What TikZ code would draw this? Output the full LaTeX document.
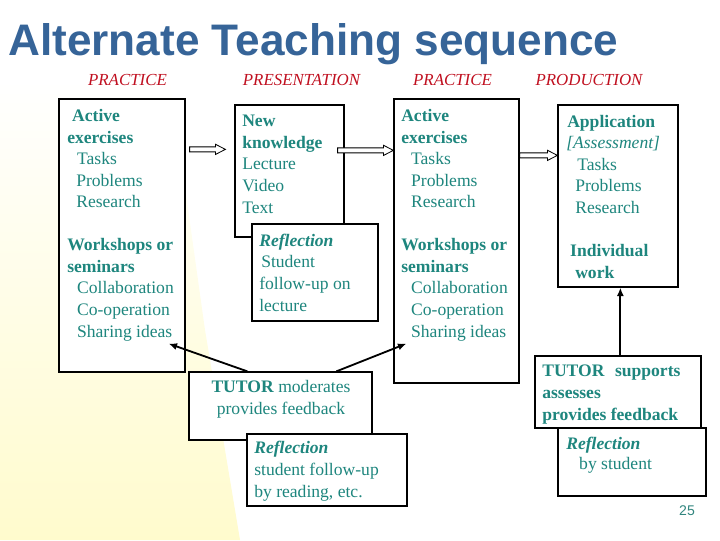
\documentclass[tikz,border=0pt]{standalone}
\usepackage{fontspec}
\setmainfont{Liberation Serif}
\newfontfamily\titlefont{Liberation Sans}
\usetikzlibrary{arrows.meta,positioning,calc,fit}

\definecolor{titleblue}{RGB}{54,100,152}
\definecolor{headred}{RGB}{192,16,32}
\definecolor{bodyteal}{RGB}{30,134,126}
\definecolor{bgyellow}{RGB}{255,251,205}

\tikzset{
  box/.style={draw,line width=0.9pt,fill=white,inner sep=0pt},
  txt/.style={anchor=base west,align=left,inner sep=0pt,text=bodyteal,
    font=\fontsize{12.5}{15.3}\selectfont},
  head/.style={anchor=base,inner sep=0pt,text=headred,
    font=\fontsize{12}{14}\selectfont\itshape},
  hollow/.style={draw,line width=0.6pt,fill=white},
  link/.style={line width=1.3pt,-{Latex[length=6pt,width=5pt]}},
}

% 白抜きの矢印（始点と終点の2点）
\newcommand{\hollowarrow}[2]{%
  \draw[hollow] let \p1=#1, \p2=#2 in
    (\x1,{\y1+1.8pt}) -- ({\x2-7pt},{\y1+1.8pt}) -- ({\x2-7pt},{\y1+3.6pt})
    -- (\x2,\y1) -- ({\x2-7pt},{\y1-3.6pt}) -- ({\x2-7pt},{\y1-1.8pt})
    -- (\x1,{\y1-1.8pt}) -- cycle;}

\begin{document}
\begin{tikzpicture}[x=0.025cm,y=-0.025cm]
  \useasboundingbox (0,0) rectangle (720,540);
  \shade[top color=white,middle color=bgyellow!80,bottom color=bgyellow]
    (0,80) -- (170,80) -- (205,330) -- (240,540) -- (0,540) -- cycle; % 左側の黄色い背景
  \node[anchor=base west,inner sep=0pt,text=titleblue,
    font=\titlefont\bfseries\fontsize{31.4}{36}\selectfont] (title) at (8,55)
    {Alternate Teaching sequence}; % 表題
  \node[head] (h1) at (127.5,85) {PRACTICE};
  \node[head] (h2) at (301.5,85) {PRESENTATION};
  \node[head] (h3) at (452.5,85) {PRACTICE};
  \node[head] (h4) at (589,85) {PRODUCTION};

  \node[box,fit={(59,99) (185,372)}] (boxA) {}; % 最初の練習
  \node[box,fit={(235,105) (344,237)}] (boxB) {}; % 提示
  \node[box,fit={(252,224) (378,321)}] (boxC) {}; % 講義の振り返り
  \node[box,fit={(394,99) (519,383)}] (boxD) {}; % 二番目の練習
  \node[box,fit={(558,105) (678,287)}] (boxE) {}; % 産出
  \node[box,fit={(189,372) (372,440)}] (boxF) {}; % 教員（調整）
  \node[box,fit={(247,434) (407,506)}] (boxG) {}; % 読書による振り返り
  \node[box,fit={(535,356) (701,428)}] (boxH) {}; % 教員（支援）
  \node[box,fit={(558,428) (706,496)}] (boxI) {}; % 学生の振り返り

  % 文字は最後の行のベースラインに置く
  \node[txt] (tA) at (67,337) {\hspace*{3.5pt}\textbf{Active}\\\textbf{exercises}\\
    \hspace*{7pt}Tasks\\\hspace*{6.4pt}Problems\\\hspace*{6.4pt}Research\\[15.3pt]
    \textbf{Workshops or}\\\textbf{seminars}\\\hspace*{7pt}Collaboration\\
    \hspace*{7pt}Co-operation\\\hspace*{7pt}Sharing ideas};
  \node[txt] (tB) at (242,213) {\textbf{New}\\\textbf{knowledge}\\Lecture\\Video\\Text};
  \node[txt] (tC) at (259,311) {\textbf{\itshape Reflection}\\\hspace*{1.4pt}Student\\
    follow-up on\\lecture};
  \node[txt] (tD) at (401,337) {\textbf{Active}\\\textbf{exercises}\\
    \hspace*{7pt}Tasks\\\hspace*{7pt}Problems\\\hspace*{7pt}Research\\[15.3pt]
    \textbf{Workshops or}\\\textbf{seminars}\\\hspace*{7pt}Collaboration\\
    \hspace*{7pt}Co-operation\\\hspace*{7pt}Sharing ideas};
  \node[txt] (tE) at (566,278) {\hspace*{0.7pt}\textbf{Application}\\\textit{[Assessment]}\\
    \hspace*{7.8pt}Tasks\\\hspace*{6.4pt}Problems\\\hspace*{6.4pt}Research\\[15.3pt]
    \hspace*{2.8pt}\textbf{Individual}\\\hspace*{6.4pt}\textbf{work}};
  \node[txt,anchor=base,align=center] (tF) at (281,414.5)
    {\textbf{TUTOR} moderates\\provides feedback};
  \node[txt] (tG) at (254,497) {\textbf{\itshape Reflection}\\student follow-up\\
    by reading, etc.};
  \node[txt] (tH) at (542,420) {\textbf{TUTOR\hspace{7.5pt}supports}\\\textbf{assesses}\\
    \textbf{provides feedback}};
  \node[txt] (tI) at (566,469) {\textbf{\itshape Reflection}\\[-1.1pt]\hspace*{9.2pt}by student};
  \node[anchor=base,inner sep=0pt,text=bodyteal!80!gray,
    font=\titlefont\fontsize{10}{12}\selectfont] (pgno) at (687,515) {25}; % ページ番号

  \hollowarrow{($(boxA.north east)+(4,51)$)}{($(boxB.north west)+(-9,45)$)}
  \hollowarrow{($(boxB.north east)+(-7,46)$)}{($(boxD.north west)+(0,52)$)}
  \hollowarrow{($(boxD.north east)+(0,57)$)}{($(boxE.north west)+(0,51)$)}

  \draw[link] ($(boxF.north west)+(59,0)$) -- ($(boxA.south east)+(-17,-29)$);
  \draw[link] ($(boxF.north west)+(148,0)$) -- ($(boxD.south west)+(13,-40)$);
  \draw[link] ($(boxH.north west)+(86,0)$) -- ($(boxE.south west)+(63,0)$);
\end{tikzpicture}
\end{document}
